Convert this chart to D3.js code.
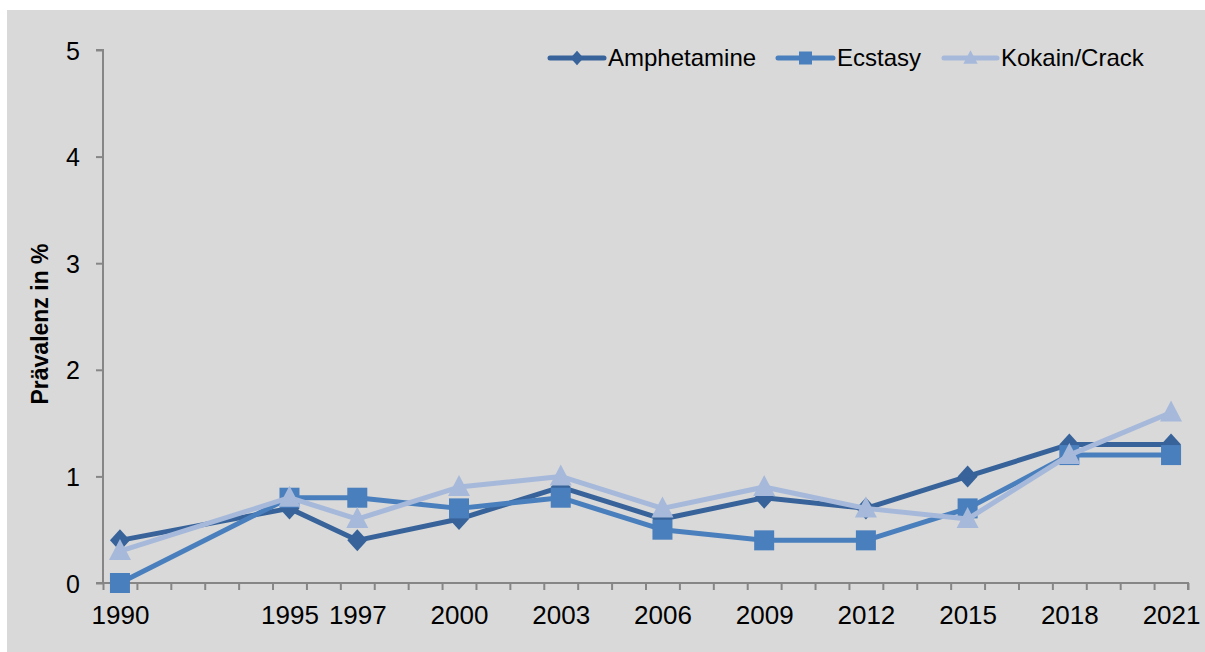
<!DOCTYPE html>
<html><head><meta charset="utf-8">
<script src="https://cdn.jsdelivr.net/npm/d3@7"></script>
<style>html,body{margin:0;padding:0;background:#fff;}svg{display:block;font-family:"Liberation Sans",Arial,sans-serif;}</style>
</head><body>
<svg id="c" width="1205" height="652"></svg>
<script>
const years = [1990, 1995, 1997, 2000, 2003, 2006, 2009, 2012, 2015, 2018, 2021];
const amphetamine = [0.4, 0.7, 0.4, 0.6, 0.9, 0.6, 0.8, 0.7, 1.0, 1.3, 1.3];
const ecstasy = [0.0, 0.8, 0.8, 0.7, 0.8, 0.5, 0.4, 0.4, 0.7, 1.2, 1.2];
const kokain = [0.3, 0.8, 0.6, 0.9, 1.0, 0.7, 0.9, 0.7, 0.6, 1.2, 1.6];
const seriesNames = ["Amphetamine", "Ecstasy", "Kokain/Crack"];
const yTicks = [0, 1, 2, 3, 4, 5];
const yTitle = "Prävalenz in %";

const FONT = "Liberation Sans, Arial, sans-serif";
const svg = d3.select("#c");
svg.append("rect").attr("x", 7).attr("y", 10).attr("width", 1198).attr("height", 642).attr("fill", "#d9d9d9");

const x = d3.scaleLinear().domain([1989.5, 2021.5]).range([103, 1188]);
const y = d3.scaleLinear().domain([0, 5]).range([583, 50]);
const axisColor = "#868686";

// y axis
const ya = svg.append("g").attr("transform", "translate(103,0)")
  .call(d3.axisLeft(y).tickValues(yTicks).tickSize(7).tickPadding(16).tickFormat(d3.format("d")));
ya.attr("font-size", 25).attr("font-family", FONT);
ya.select(".domain").attr("stroke", axisColor).attr("stroke-width", 2).attr("d", `M-7,${y(5)}H0V${y(0)}`);
ya.selectAll(".tick line").attr("stroke", axisColor).attr("stroke-width", 2);
ya.selectAll(".tick text").attr("fill", "#000").attr("dy", "0.36em");

// x axis minor ticks at boundaries
const bounds = d3.range(1989.5, 2022, 1);
const xa = svg.append("g").attr("transform", `translate(0,${y(0)})`)
  .call(d3.axisBottom(x).tickValues(bounds).tickSize(7).tickFormat(""));
xa.select(".domain").attr("stroke", axisColor).attr("stroke-width", 2).attr("d", `M${x(1989.5)-7},0H${x(2021.5)}V7`);
xa.selectAll(".tick line").attr("stroke", axisColor).attr("stroke-width", 2);
const xl = svg.append("g").attr("transform", `translate(0,${y(0)})`)
  .call(d3.axisBottom(x).tickValues(years).tickSize(0).tickFormat(d3.format("d")));
xl.attr("font-size", 26).attr("font-family", FONT);
xl.select(".domain").remove();
xl.selectAll(".tick text").attr("fill", "#000").attr("y", 41).attr("dy", 0);

// y title
svg.append("text").attr("transform", `translate(48,324) rotate(-90)`)
  .attr("text-anchor", "middle").attr("font-size", 23).attr("font-weight", "bold").attr("font-family", FONT).text(yTitle);

const colors = ["#37639a", "#4a7fbd", "#a6b9da"];
const data = [amphetamine, ecstasy, kokain];
const line = d3.line().x((d, i) => x(years[i])).y(d => y(d));

function marker(g, type, cx, cy, color, s) {
  if (type === 0) {
    g.append("path").attr("d", `M${cx},${cy-s*0.55}L${cx+s*0.5},${cy}L${cx},${cy+s*0.55}L${cx-s*0.5},${cy}Z`).attr("fill", color);
  } else if (type === 1) {
    g.append("rect").attr("x", cx - s/2).attr("y", cy - s/2).attr("width", s).attr("height", s).attr("fill", color);
  } else {
    g.append("path").attr("d", `M${cx},${cy-s*0.6}L${cx+s*0.55},${cy+s*0.45}L${cx-s*0.55},${cy+s*0.45}Z`).attr("fill", color);
  }
}

data.forEach((vals, k) => {
  const g = svg.append("g");
  g.append("path").datum(vals).attr("d", line).attr("fill", "none").attr("stroke", colors[k])
    .attr("stroke-width", 5).attr("stroke-linejoin", "round").attr("stroke-linecap", "round");
  vals.forEach((v, i) => marker(g, k, x(years[i]), y(v), colors[k], 20));
});

// legend
const legendItems = [
  {x1: 550, x2: 604},
  {x1: 778, x2: 833},
  {x1: 944, x2: 997}
];
legendItems.forEach((it, k) => {
  const g = svg.append("g");
  const ly = 58;
  g.append("line").attr("x1", it.x1).attr("x2", it.x2).attr("y1", ly).attr("y2", ly)
    .attr("stroke", colors[k]).attr("stroke-width", 5).attr("stroke-linecap", "round");
  marker(g, k, (it.x1 + it.x2) / 2, ly, colors[k], 13);
  g.append("text").attr("x", it.x2 + 4).attr("y", ly + 8).attr("font-size", 24).attr("font-family", FONT)
    .attr("fill", "#000").text(seriesNames[k]);
});
</script>
</body></html>
